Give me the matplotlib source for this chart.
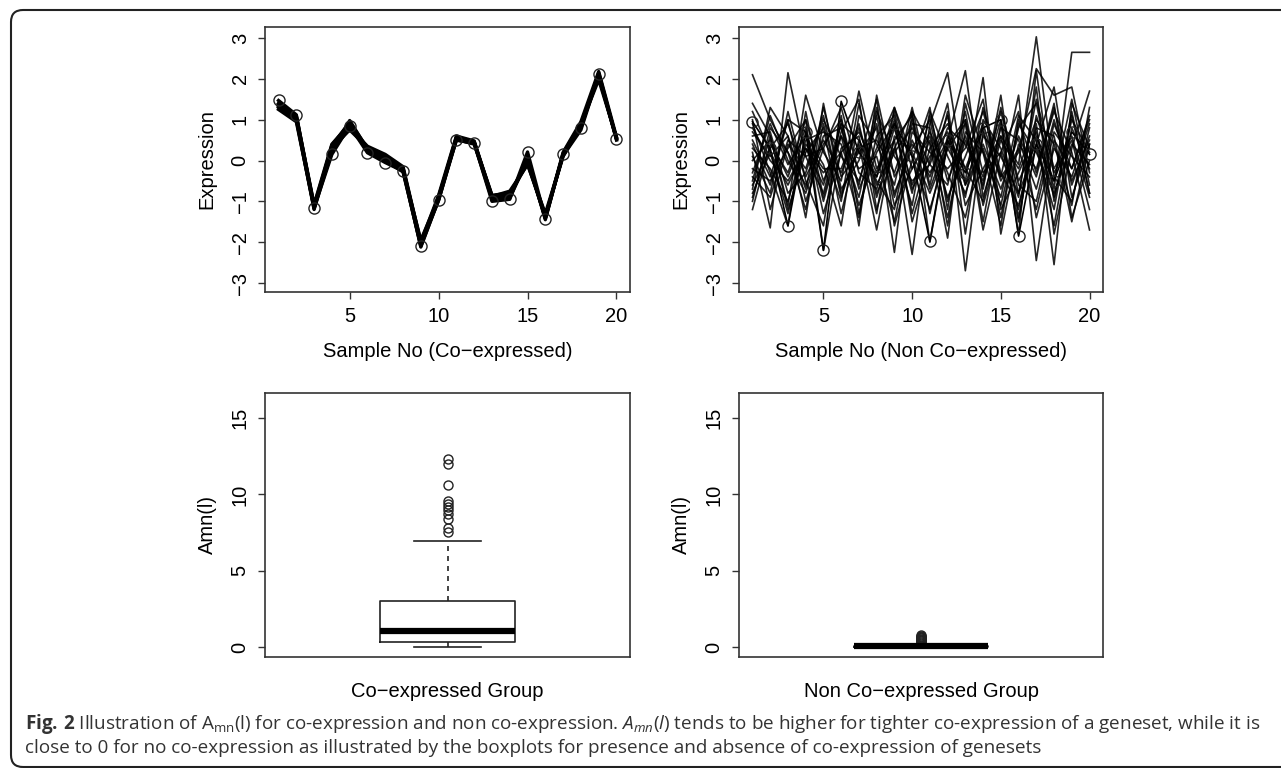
import matplotlib.pyplot as plt
import matplotlib.patches as patches
import matplotlib.transforms as mtransforms
import numpy as np

# ---- data ----
samples = list(range(1, 21))

# co-expressed genes: nearly identical profiles
coexp_marked = [1.47, 1.12, -1.16, 0.15, 0.85, 0.19, -0.05, -0.26, -2.10, -0.97,
                0.50, 0.43, -1.00, -0.95, 0.21, -1.42, 0.15, 0.80, 2.12, 0.53]
coexp_series = [
    [1.35, 1.05, -1.10, 0.35, 0.95, 0.30, 0.10, -0.20, -2.05, -0.90, 0.55, 0.45, -0.85, -0.80, -0.05, -1.35, 0.10, 0.85, 2.05, 0.55],
    [1.30, 1.00, -1.20, 0.25, 0.80, 0.35, 0.15, -0.15, -2.00, -0.85, 0.60, 0.48, -0.90, -0.85, 0.00, -1.40, 0.20, 0.95, 2.18, 0.58],
    [1.40, 1.10, -1.08, 0.40, 0.90, 0.25, 0.05, -0.22, -2.12, -0.95, 0.52, 0.40, -0.88, -0.75, -0.10, -1.30, 0.12, 0.75, 2.10, 0.50],
    [1.25, 0.95, -1.15, 0.30, 0.75, 0.32, 0.12, -0.25, -1.95, -0.92, 0.58, 0.46, -0.92, -0.90, 0.05, -1.45, 0.18, 0.88, 1.98, 0.56],
    [1.38, 1.08, -1.12, 0.20, 0.98, 0.28, 0.00, -0.28, -2.08, -0.88, 0.50, 0.42, -0.95, -0.82, -0.08, -1.38, 0.14, 0.82, 2.15, 0.52],
    [1.32, 1.02, -1.18, 0.38, 0.88, 0.22, 0.08, -0.18, -2.02, -0.98, 0.56, 0.44, -0.86, -0.92, 0.02, -1.42, 0.16, 0.90, 2.08, 0.54],
]

# non co-expressed genes
noncoexp_marked = [0.95, 0.30, -1.60, 0.70, -2.20, 1.45, 0.20, -0.40, 0.90, 0.10,
                   -1.98, 0.50, -0.30, 0.80, 1.00, -1.85, 0.40, -0.50, 0.70, 0.15]
noncoexp_series = [
    [2.10, 1.00, 0.20, -0.60, 0.40, 1.00, -0.70, 0.30, 1.30, -0.20, 0.60, -0.90, 0.10, 1.20, -0.40, 0.20, 2.25, 1.60, 1.80, -0.30],
    [1.40, 0.60, -1.10, 1.60, 0.20, -0.50, 1.70, -0.20, 0.50, -2.30, 0.90, 2.15, -0.60, 0.30, -1.10, 0.80, 1.40, -0.70, 2.65, 2.65],
    [0.20, -1.65, 2.15, 0.10, -0.80, 0.90, -1.60, 1.60, -0.40, 0.40, -0.30, 0.50, 2.20, -0.90, 0.60, -0.10, 3.03, -0.40, -1.00, 0.80],
    [-1.20, 0.40, -0.30, 1.00, -2.20, 0.30, 0.60, -1.30, 1.30, 0.10, -1.20, 0.30, -0.50, 2.03, -1.80, 0.40, -0.20, 1.20, 0.20, -1.70],
    [0.70, 0.10, 0.60, -0.70, 1.30, -0.40, 0.20, 0.80, -2.25, 1.20, 0.40, -1.90, 1.40, -0.30, 0.20, -1.20, 0.90, -2.55, 1.40, 0.30],
    [-0.30, 0.90, -0.10, 0.60, -0.10, -1.60, 1.10, 0.40, -0.60, 1.30, -0.60, 1.20, -2.70, 0.70, -0.40, 1.60, -2.45, 0.50, -0.20, 1.10],
    [0.50, -0.40, 1.00, -1.00, 0.30, 1.30, -0.30, -0.70, 0.80, -0.80, 1.10, -0.50, 0.60, -0.60, 1.30, -0.50, 0.40, 1.80, -0.90, 0.40],
    [-0.80, 0.20, -0.60, 0.30, -0.30, 0.20, -1.40, 1.20, 0.10, -0.50, -0.10, 1.10, -1.10, -0.20, 0.60, -1.50, 1.10, -0.30, 0.50, -1.20],
    [1.00, -1.20, 0.40, -0.20, 1.10, -0.90, 0.40, -1.70, 0.60, 0.20, -0.80, 0.30, 0.90, -1.70, 0.20, 1.20, -1.40, 0.30, -0.40, 0.90],
    [0.00, 0.50, -0.40, 0.80, -1.00, 0.60, -0.20, 0.10, -1.50, 0.70, 0.20, -0.20, 0.30, 1.50, -1.20, -0.30, 0.70, -0.90, 1.00, 0.20],
    [-0.60, 0.30, 0.90, -0.40, 0.50, -0.30, 0.80, -0.60, 0.30, -1.10, 1.20, 0.10, -0.80, 0.40, -0.70, 0.60, -0.40, 1.30, -0.60, 0.60],
    [0.30, -0.20, -1.00, 0.50, 0.70, 0.40, -0.90, 1.10, -0.90, 0.50, -0.40, 0.80, 0.40, -0.50, 1.00, -0.80, 0.30, -1.20, 1.20, -0.80],
    [-1.00, 0.80, 0.20, -1.20, 0.90, -0.80, 0.30, 0.50, -0.30, 1.00, -1.30, 0.60, -0.20, 0.90, -0.50, 0.30, -1.20, 0.70, 0.10, -0.40],
    [0.80, 0.00, -0.50, 0.30, -0.60, 0.90, 0.50, -0.40, 1.00, -0.60, 0.50, -1.40, 0.70, 0.20, -0.90, 1.10, 0.50, -1.60, 0.80, -0.20],
    [-0.40, -0.90, 0.50, 0.10, 0.30, -1.00, 1.40, -0.80, 0.20, 0.80, -0.10, -0.60, 1.20, -1.10, 0.50, -0.20, 1.00, 0.40, -1.10, 1.30],
    [0.60, 0.70, -0.80, -0.30, 1.00, 0.10, -0.50, 0.90, -1.10, -0.20, 0.70, -0.30, -1.40, 0.60, 0.10, -0.80, 1.50, -0.20, 0.60, -0.90],
    [-0.20, -0.50, 0.30, 1.00, -0.50, 0.60, -1.10, 0.20, 0.90, -1.30, 0.30, 0.90, -0.20, -1.00, 0.80, 0.50, -0.70, 1.00, -0.50, 0.50],
    [1.20, 0.20, -1.30, 0.40, -0.20, -0.20, 0.90, -0.90, 0.50, 1.10, -0.70, 0.50, -0.90, 1.30, -0.30, -1.10, 0.60, -0.50, 1.50, -0.60],
    [-0.50, 1.10, 0.00, -0.80, 0.60, 0.80, -0.60, 1.30, -0.80, 0.30, 1.00, -1.00, 0.50, -0.40, 1.20, -0.60, -1.00, 0.90, -0.20, 1.00],
    [0.40, -0.60, 1.00, 0.70, -1.30, 0.20, 0.70, -0.30, 1.20, -0.70, 0.10, 0.70, -0.60, 0.80, -1.40, 0.90, 0.20, -0.80, 0.40, -0.10],
    [0.90, -0.30, -1.60, 1.20, -0.90, 0.70, 1.50, -1.20, 0.30, 1.20, -2.00, 0.40, 1.00, -1.50, 0.90, -1.80, 2.20, -1.00, 1.10, -0.80],
    [-0.70, 1.30, 0.60, -1.40, 1.40, -0.70, 0.00, 1.50, -1.60, 0.00, 1.30, -1.20, 1.60, 0.20, -1.60, 1.00, -0.30, 1.40, -1.40, 0.00],
    [0.10, -0.80, 1.20, -0.50, -1.60, 1.10, -1.30, 0.60, 1.10, -1.50, 0.00, 1.40, -1.80, 1.00, 0.30, -0.90, 1.80, -1.80, 0.30, 1.70],
    [-0.90, 0.60, -1.20, 0.20, 0.80, -1.30, 0.50, -0.50, -1.20, 0.90, 0.80, -1.60, 1.00, -0.70, 1.60, -1.40, 0.80, 0.60, -1.50, 0.40],
]

# boxplot summaries of Amn(l)
box_labels = ["Co\u2212expressed Group", "Non Co\u2212expressed Group"]
box_med = [1.05, 0.05]
box_q1 = [0.33, 0.02]
box_q3 = [3.00, 0.08]
box_whislo = [0.0, 0.0]
box_whishi = [6.97, 0.20]
box_fliers = [
    [7.55, 7.8, 8.4, 8.7, 9.0, 9.2, 9.4, 9.6, 10.6, 12.0, 12.3],
    [0.30, 0.35, 0.40, 0.45, 0.50, 0.55, 0.60, 0.65, 0.70, 0.75, 0.80],
]

line_labels = ["Sample No (Co\u2212expressed)", "Sample No (Non Co\u2212expressed)"]

plt.rcParams["font.family"] = ["Liberation Sans", "DejaVu Sans"]
plt.rcParams["mathtext.fontset"] = "custom"
plt.rcParams["mathtext.rm"] = "Open Sans"
plt.rcParams["mathtext.it"] = "Open Sans:italic"
plt.rcParams["mathtext.bf"] = "Open Sans:bold"

W, H = 1281, 768
FS = 14.5
fig = plt.figure(figsize=(W / 100, H / 100), dpi=100)


def px_axes(x0, y0, x1, y1):
    return fig.add_axes([x0 / W, 1 - y1 / H, (x1 - x0) / W, (y1 - y0) / H])


def style(ax):
    for s in ax.spines.values():
        s.set_linewidth(1.2)
        s.set_color("#333333")
    ax.tick_params(direction="out", length=5, width=1.0, pad=6, labelsize=FS, color="#333333")
    for lab in ax.get_yticklabels():
        lab.set_rotation(90)
        lab.set_va("center")


ax_tl = px_axes(265, 27, 630, 292)
ax_tr = px_axes(739, 27, 1103, 292)
ax_bl = px_axes(265, 393, 630, 657)
ax_br = px_axes(739, 393, 1103, 657)

# line plots
for s in coexp_series:
    ax_tl.plot(samples, s, color="black", lw=2.4)
ax_tl.plot(samples, coexp_marked, color="black", lw=2.4, marker="o", ms=8,
           mfc="none", mec="#222222", mew=1.0)

for s in noncoexp_series:
    ax_tr.plot(samples, s, color="black", lw=1.2, alpha=0.85)
ax_tr.plot(samples, noncoexp_marked, color="black", lw=1.2, marker="o", ms=8,
           mfc="none", mec="#222222", mew=1.0)

for ax, lab in zip([ax_tl, ax_tr], line_labels):
    ax.set_xlim(0.24, 20.76)
    ax.set_ylim(-3.22, 3.27)
    ax.set_xticks([5, 10, 15, 20])
    ax.set_yticks([-3, -2, -1, 0, 1, 2, 3])
    ax.set_yticklabels(["\u22123", "\u22122", "\u22121", "0", "1", "2", "3"])
    ax.set_xlabel(lab, fontsize=FS, labelpad=11)
    ax.set_ylabel("Expression", fontsize=FS, labelpad=10)
    style(ax)

# boxplots
for i, ax in enumerate([ax_bl, ax_br]):
    stats = [dict(med=box_med[i], q1=box_q1[i], q3=box_q3[i],
                  whislo=box_whislo[i], whishi=box_whishi[i], fliers=box_fliers[i])]
    ax.bxp(stats, positions=[1], widths=0.37, showfliers=True,
           boxprops=dict(color="#222222", lw=1.2),
           medianprops=dict(color="black", lw=4.5, solid_capstyle="butt"),
           whiskerprops=dict(color="#222222", lw=1.2, ls=(0, (3, 3))),
           capprops=dict(color="#222222", lw=1.2),
           flierprops=dict(marker="o", ms=6.5, mfc="none", mec="#222222", mew=1.0))
    ax.set_xlim(0.5, 1.5)
    ax.set_ylim(-0.64, 16.64)
    ax.set_xticks([])
    ax.set_yticks([0, 5, 10, 15])
    ax.set_xlabel(box_labels[i], fontsize=FS, labelpad=18)
    ax.set_ylabel("Amn(l)", fontsize=FS, labelpad=10)
    style(ax)

# rounded frame around the figure
frame = patches.FancyBboxPatch((11, 1), 1320, 757, boxstyle="round,pad=0,rounding_size=12",
                               transform=mtransforms.IdentityTransform(),
                               fill=False, edgecolor="#222222", lw=1.5)
fig.add_artist(frame)

cap1 = (r"$\mathbf{Fig.}\,\mathbf{2}$ Illustration of A$_{\mathrm{mn}}$(l) for co-expression and non "
        r"co-expression. $\mathit{A}_{\mathit{mn}}\mathit{(l)}$ tends to be higher for tighter "
        r"co-expression of a geneset, while it is")
cap2 = ("close to 0 for no co-expression as illustrated by the boxplots for presence and "
        "absence of co-expression of genesets")
fig.text(25 / W, 1 - 729 / H, cap1, fontsize=13.6, family="Open Sans", color="#333333", va="baseline")
fig.text(25 / W, 1 - 753 / H, cap2, fontsize=13.6, family="Open Sans", color="#333333", va="baseline")

fig.savefig("out.png", dpi=100)
